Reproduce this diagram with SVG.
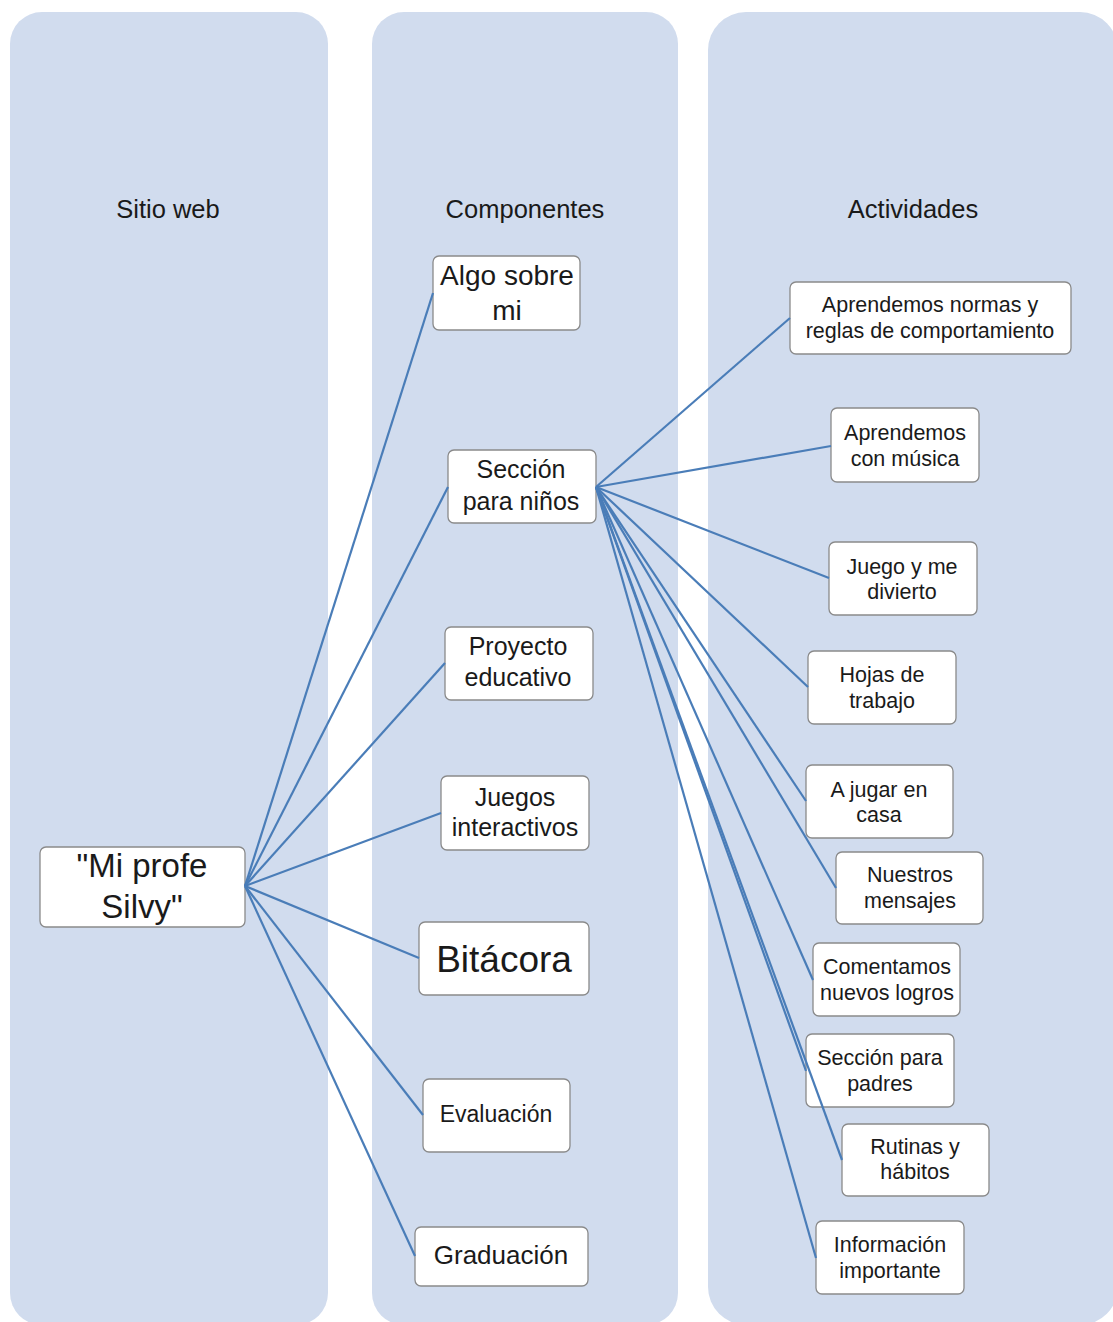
<svg xmlns="http://www.w3.org/2000/svg" width="1113" height="1322" viewBox="0 0 1113 1322">
<style>
.col{fill:#d1dcee}
.box{fill:#fff;stroke:#8a8a8a;stroke-width:1.3}
text{font-family:"Liberation Sans",Arial,sans-serif;fill:#1a1a1a;text-anchor:middle}
.hd{font-size:25.5px}
.act{font-size:21.5px}
.cmp{font-size:25px}
#connectors line{stroke:#4a7db8;stroke-width:2.2}
</style>
<rect width="1113" height="1322" fill="#fff"/>
<g id="columns">
<rect class="col" x="10" y="12" width="318" height="1313" rx="32"/>
<rect class="col" x="372" y="12" width="306" height="1313" rx="32"/>
<rect class="col" x="708" y="12" width="410" height="1313" rx="38"/>
<text class="hd" x="168" y="218">Sitio web</text>
<text class="hd" x="525" y="218">Componentes</text>
<text class="hd" x="913" y="218">Actividades</text>
</g>
<g id="n-mi-profe">
<rect class="box" x="40" y="847" width="205" height="80" rx="6"/>
<text x="142" y="877" font-size="33">"Mi profe</text>
<text x="142" y="918" font-size="33">Silvy"</text>
</g>
<g id="n-algo">
<rect class="box" x="433" y="256" width="147" height="74" rx="6"/>
<text x="507" y="285" font-size="28">Algo sobre</text>
<text x="507" y="320" font-size="28">mi</text>
</g>
<g id="n-seccion-ninos">
<rect class="box" x="448" y="450" width="148" height="73" rx="6"/>
<text class="cmp" x="521" y="478">Sección</text>
<text class="cmp" x="521" y="510">para niños</text>
</g>
<g id="n-proyecto">
<rect class="box" x="445" y="627" width="148" height="73" rx="6"/>
<text class="cmp" x="518" y="655">Proyecto</text>
<text class="cmp" x="518" y="686">educativo</text>
</g>
<g id="n-juegos">
<rect class="box" x="441" y="776" width="148" height="74" rx="6"/>
<text class="cmp" x="515" y="806">Juegos</text>
<text class="cmp" x="515" y="836">interactivos</text>
</g>
<g id="n-bitacora">
<rect class="box" x="419" y="922" width="170" height="73" rx="6"/>
<text x="504" y="972" font-size="37">Bitácora</text>
</g>
<g id="n-evaluacion">
<rect class="box" x="423" y="1079" width="147" height="73" rx="6"/>
<text x="496" y="1122" font-size="23">Evaluación</text>
</g>
<g id="n-graduacion">
<rect class="box" x="415" y="1227" width="173" height="59" rx="6"/>
<text x="501" y="1264" font-size="26">Graduación</text>
</g>
<g id="a-normas">
<rect class="box" x="790" y="282" width="281" height="72" rx="6"/>
<text class="act" x="930" y="312">Aprendemos normas y</text>
<text class="act" x="930" y="338">reglas de comportamiento</text>
</g>
<g id="a-musica">
<rect class="box" x="831" y="408" width="148" height="74" rx="6"/>
<text class="act" x="905" y="440">Aprendemos</text>
<text class="act" x="905" y="466">con música</text>
</g>
<g id="a-juego">
<rect class="box" x="829" y="542" width="148" height="73" rx="6"/>
<text class="act" x="902" y="574">Juego y me</text>
<text class="act" x="902" y="599">divierto</text>
</g>
<g id="a-hojas">
<rect class="box" x="808" y="651" width="148" height="73" rx="6"/>
<text class="act" x="882" y="682">Hojas de</text>
<text class="act" x="882" y="708">trabajo</text>
</g>
<g id="a-jugar">
<rect class="box" x="806" y="765" width="147" height="73" rx="6"/>
<text class="act" x="879" y="797">A jugar en</text>
<text class="act" x="879" y="822">casa</text>
</g>
<g id="a-mensajes">
<rect class="box" x="836" y="852" width="147" height="72" rx="6"/>
<text class="act" x="910" y="882">Nuestros</text>
<text class="act" x="910" y="908">mensajes</text>
</g>
<g id="a-logros">
<rect class="box" x="813" y="943" width="147" height="73" rx="6"/>
<text class="act" x="887" y="974">Comentamos</text>
<text class="act" x="887" y="1000">nuevos logros</text>
</g>
<g id="a-padres">
<rect class="box" x="806" y="1034" width="148" height="73" rx="6"/>
<text class="act" x="880" y="1065">Sección para</text>
<text class="act" x="880" y="1091">padres</text>
</g>
<g id="a-rutinas">
<rect class="box" x="842" y="1124" width="147" height="72" rx="6"/>
<text class="act" x="915" y="1154">Rutinas y</text>
<text class="act" x="915" y="1179">hábitos</text>
</g>
<g id="a-info">
<rect class="box" x="816" y="1221" width="148" height="73" rx="6"/>
<text class="act" x="890" y="1252">Información</text>
<text class="act" x="890" y="1278">importante</text>
</g>
<g id="connectors">
<line x1="245" y1="886" x2="433" y2="293"/>
<line x1="245" y1="886" x2="448" y2="487"/>
<line x1="245" y1="886" x2="445" y2="663"/>
<line x1="245" y1="886" x2="441" y2="813"/>
<line x1="245" y1="886" x2="419" y2="958"/>
<line x1="245" y1="886" x2="423" y2="1115"/>
<line x1="245" y1="886" x2="415" y2="1256"/>
<line x1="596" y1="487" x2="790" y2="318"/>
<line x1="596" y1="487" x2="831" y2="446"/>
<line x1="596" y1="487" x2="829" y2="578"/>
<line x1="596" y1="487" x2="808" y2="687"/>
<line x1="596" y1="487" x2="806" y2="801"/>
<line x1="596" y1="487" x2="836" y2="888"/>
<line x1="596" y1="487" x2="813" y2="980"/>
<line x1="596" y1="487" x2="806" y2="1071"/>
<line x1="596" y1="487" x2="842" y2="1160"/>
<line x1="596" y1="487" x2="816" y2="1258"/>
</g>
</svg>
